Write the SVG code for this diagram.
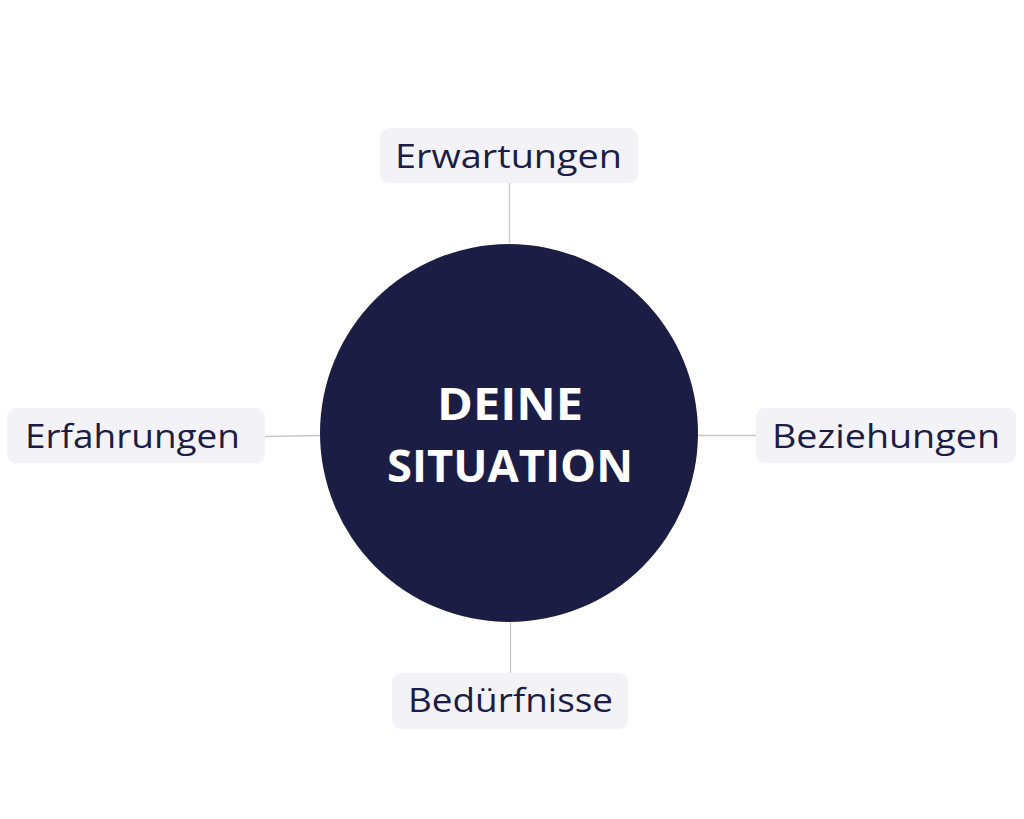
<svg xmlns="http://www.w3.org/2000/svg" width="1024" height="819" viewBox="0 0 1024 819">
<style>
.box{fill:#f3f3f7}
.lbl{font-family:"Open Sans","DejaVu Sans",sans-serif;font-size:32px;fill:#1b1d44;text-anchor:middle}
.ctr{font-family:"Open Sans","DejaVu Sans",sans-serif;font-weight:bold;font-size:44px;fill:#ffffff;text-anchor:middle}
.con{stroke:#c8c8cc;stroke-width:1.3;fill:none}
</style>
<rect width="1024" height="819" fill="#ffffff"/>
<g id="connectors">
<line class="con" x1="509.5" y1="183" x2="509.5" y2="243"/>
<line class="con" x1="265" y1="436.5" x2="321" y2="435.5"/>
<line class="con" x1="698" y1="435.5" x2="756" y2="435.5"/>
<line class="con" x1="510.5" y1="622" x2="510.5" y2="673"/>
</g>
<g id="center">
<circle cx="509" cy="433" r="189" fill="#1b1d44"/>
<text class="ctr" x="510" y="420" textLength="146" lengthAdjust="spacingAndGlyphs">DEINE</text>
<text class="ctr" x="510" y="482" textLength="246" lengthAdjust="spacingAndGlyphs">SITUATION</text>
</g>
<g id="erwartungen">
<rect class="box" x="380" y="128" width="258" height="55" rx="9"/>
<text class="lbl" x="508.5" y="168" textLength="227" lengthAdjust="spacingAndGlyphs">Erwartungen</text>
</g>
<g id="erfahrungen">
<rect class="box" x="7" y="408" width="258" height="55" rx="9"/>
<text class="lbl" x="132.5" y="448" textLength="215" lengthAdjust="spacingAndGlyphs">Erfahrungen</text>
</g>
<g id="beziehungen">
<rect class="box" x="756" y="408" width="260" height="55" rx="9"/>
<text class="lbl" x="886" y="448" textLength="228" lengthAdjust="spacingAndGlyphs">Beziehungen</text>
</g>
<g id="beduerfnisse">
<rect class="box" x="392" y="673" width="236" height="56" rx="9"/>
<text class="lbl" x="510.5" y="712" textLength="205" lengthAdjust="spacingAndGlyphs">Bedürfnisse</text>
</g>
</svg>
